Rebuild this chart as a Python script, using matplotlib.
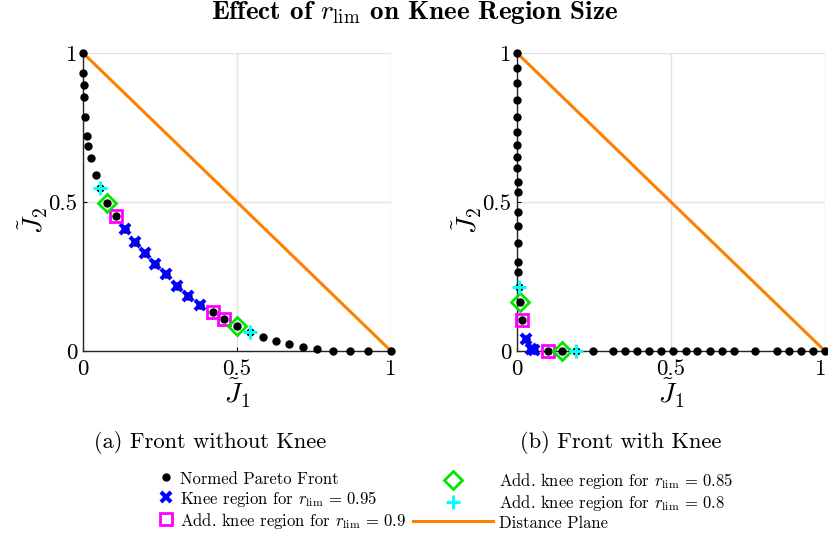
import matplotlib
matplotlib.use("Agg")
import matplotlib.pyplot as plt
from matplotlib.lines import Line2D
from matplotlib.transforms import ScaledTranslation

plt.rcParams['mathtext.fontset'] = 'cm'
plt.rcParams['font.family'] = 'serif'
plt.rcParams['font.serif'] = ['cmr10']
plt.rcParams['axes.formatter.use_mathtext'] = True

# ---------------- data ----------------
# (a) front without knee
a_front_j1 = [0, 0.001, 0.003, 0.004, 0.007, 0.012, 0.017, 0.026, 0.041, 0.055, 0.077,
              0.106, 0.136, 0.169, 0.201, 0.234, 0.269, 0.306, 0.342, 0.380, 0.421, 0.459,
              0.501, 0.542, 0.585, 0.627, 0.670, 0.715, 0.761, 0.813, 0.867, 0.924, 1.0]
a_front_j2 = [1, 0.932, 0.893, 0.853, 0.786, 0.721, 0.688, 0.647, 0.591, 0.546, 0.498,
              0.454, 0.409, 0.367, 0.330, 0.292, 0.257, 0.219, 0.186, 0.154, 0.130, 0.106,
              0.085, 0.065, 0.048, 0.034, 0.023, 0.014, 0.006, 0.001, 0.0, 0.0, 0.0]
a_k95_j1 = [0.136, 0.169, 0.201, 0.234, 0.269, 0.306, 0.342, 0.380]
a_k95_j2 = [0.409, 0.367, 0.330, 0.292, 0.257, 0.219, 0.186, 0.154]
a_k90_j1 = [0.106, 0.421, 0.459]
a_k90_j2 = [0.454, 0.130, 0.106]
a_k85_j1 = [0.077, 0.501]
a_k85_j2 = [0.498, 0.085]
a_k80_j1 = [0.055, 0.542]
a_k80_j2 = [0.546, 0.065]

# (b) front with knee
b_front_j1 = [0, 0, 0, 0, 0, 0.001, 0.001, 0.001, 0.001, 0.002, 0.002, 0.002, 0.003, 0.003,
              0.004, 0.004, 0.006, 0.010, 0.016, 0.028, 0.045, 0.056, 0.100, 0.147, 0.191,
              0.246, 0.313, 0.351, 0.391, 0.430, 0.467, 0.506, 0.549, 0.586, 0.625, 0.665,
              0.705, 0.773, 0.843, 0.884, 0.921, 0.960, 1.0]
b_front_j2 = [1, 0.949, 0.898, 0.842, 0.786, 0.736, 0.691, 0.652, 0.613, 0.568, 0.535, 0.468,
              0.420, 0.363, 0.300, 0.266, 0.214, 0.165, 0.104, 0.039, 0.007, 0.003, 0.0, 0.0,
              0.0, 0.0, 0.0, 0.0, 0.0, 0.0, 0.0, 0.0, 0.0, 0.0, 0.0, 0.0, 0.0, 0.0, 0.0, 0.0,
              0.0, 0.0, 0.0]
b_k95_j1 = [0.028, 0.045, 0.056]
b_k95_j2 = [0.039, 0.007, 0.003]
b_k90_j1 = [0.016, 0.100]
b_k90_j2 = [0.104, 0.0]
b_k85_j1 = [0.010, 0.147]
b_k85_j2 = [0.165, 0.0]
b_k80_j1 = [0.006, 0.191]
b_k80_j2 = [0.214, 0.0]

plane_j1 = [0, 1]
plane_j2 = [1, 0]

ticks = [0, 0.5, 1]
tick_labels = ['0', '0.5', '1']

legend_labels = ['Normed Pareto Front',
                 r'Knee region for $r_{\rm lim}\,=\,0.95$',
                 r'Add. knee region for $r_{\rm lim}\,=\,0.9$',
                 r'Add. knee region for $r_{\rm lim}\,=\,0.85$',
                 r'Add. knee region for $r_{\rm lim}\,=\,0.8$',
                 'Distance Plane']
captions = ['(a) Front without Knee', '(b) Front with Knee']

# ---------------- styles ----------------
C_FRONT = 'black'
C_K95 = '#0000ff'
C_K90 = '#ff00ff'
C_K85 = '#00e600'
C_K80 = '#00ffff'
C_PLANE = '#ff8000'

sty_front = dict(ls='none', marker='o', ms=5, color=C_FRONT, mec=C_FRONT)
sty_k95 = dict(ls='none', marker='x', ms=7.5, mew=3.0, color=C_K95)
sty_k90 = dict(ls='none', marker='s', ms=9, mew=2.0, mfc='none', mec=C_K90)
sty_k85 = dict(ls='none', marker='D', ms=9, mew=2.0, mfc='none', mec=C_K85)
sty_k80 = dict(ls='none', marker='+', ms=10, mew=2.2, color=C_K80)
sty_plane = dict(ls='-', lw=2.2, color=C_PLANE)

W, H = 829, 536
fig = plt.figure(figsize=(W / 100, H / 100), dpi=100)

def px_axes(x0, y_top, w, h):
    return [x0 / W, 1 - (y_top + h) / H, w / W, h / H]

ax_a = fig.add_axes(px_axes(83, 53, 308, 298))
ax_b = fig.add_axes(px_axes(517, 53, 308, 298))

datasets = [
    (ax_a, a_front_j1, a_front_j2, a_k95_j1, a_k95_j2, a_k90_j1, a_k90_j2,
     a_k85_j1, a_k85_j2, a_k80_j1, a_k80_j2),
    (ax_b, b_front_j1, b_front_j2, b_k95_j1, b_k95_j2, b_k90_j1, b_k90_j2,
     b_k85_j1, b_k85_j2, b_k80_j1, b_k80_j2),
]
caption_x_px = [210, 621]

for i, (ax, fj1, fj2, k95x, k95y, k90x, k90y, k85x, k85y, k80x, k80y) in enumerate(datasets):
    ax.plot(plane_j1, plane_j2, zorder=2, clip_on=False, **sty_plane)
    ax.plot(fj1, fj2, zorder=3, clip_on=False, **sty_front)
    ax.plot(k95x, k95y, zorder=4, clip_on=False, **sty_k95)
    ax.plot(k90x, k90y, zorder=4, clip_on=False, **sty_k90)
    ax.plot(k85x, k85y, zorder=4, clip_on=False, **sty_k85)
    ax.plot(k80x, k80y, zorder=4, clip_on=False, **sty_k80)
    ax.set_xlim(0, 1)
    ax.set_ylim(0, 1)
    ax.set_xticks(ticks)
    ax.set_xticklabels(tick_labels)
    ax.set_yticks(ticks)
    ax.set_yticklabels(tick_labels)
    ax.tick_params(direction='in', length=3, width=0.8, labelsize=16.5)
    ax.tick_params(axis='x', pad=6)
    ax.tick_params(axis='y', pad=4)
    ax.grid(True, color='#e2e2e2', lw=1.0)
    ax.set_axisbelow(True)
    for s in ['top', 'right']:
        ax.spines[s].set_visible(False)
    for s in ['left', 'bottom']:
        ax.spines[s].set_linewidth(1.0)
        ax.spines[s].set_color('#262626')
        ax.spines[s].set_zorder(1)
    ax.set_xlabel(r'$\tilde{J}_1$', fontsize=20)
    ax.set_ylabel(r'$\tilde{J}_2$', fontsize=20)
    ax.xaxis.set_label_coords(0.5, (351 - 377) / 298)
    ax.yaxis.set_label_coords((50 - 83) / 308, 0.44)
    fig.text(caption_x_px[i] / W, 1 - 442 / H, captions[i], ha='center', va='center',
             fontsize=16.2)

# keep the last x tick label of the right panel inside the canvas
last_lbl = ax_b.get_xticklabels()[-1]
last_lbl.set_transform(last_lbl.get_transform() +
                       ScaledTranslation(-4 / 100, 0, fig.dpi_scale_trans))

fig.text(0.5, 1 - 13 / H, r'Effect of $r_{\rm lim}$ on Knee Region Size', ha='center',
         va='center', fontsize=19.5, family='cmb10')

# legend, two columns
h_front = Line2D([], [], **sty_front)
h_k95 = Line2D([], [], **sty_k95)
h_k90 = Line2D([], [], **sty_k90)
h_k85 = Line2D([], [], **sty_k85)
h_k80 = Line2D([], [], **sty_k80)
h_plane = Line2D([], [], **sty_plane)

common = dict(loc='upper left', frameon=False, fontsize=12, borderpad=0,
              borderaxespad=0, labelspacing=0.12, numpoints=1, handleheight=0.9)
fig.legend([h_front, h_k95, h_k90], legend_labels[:3],
           bbox_to_anchor=(158 / W, 1 - 471 / H), handlelength=1.0,
           handletextpad=0.35, **common)
fig.legend([h_k85, h_k80, h_plane], legend_labels[3:],
           bbox_to_anchor=(413 / W, 1 - 471 / H), handlelength=4.8,
           handletextpad=0.35, **common)

fig.savefig('out.png', dpi=100)
